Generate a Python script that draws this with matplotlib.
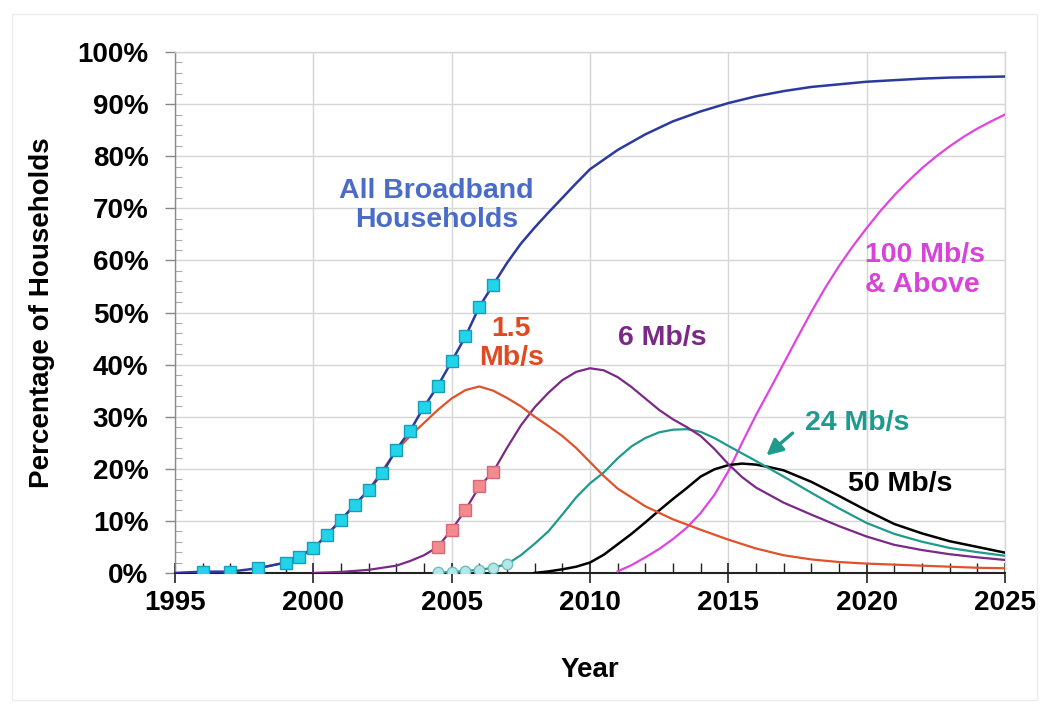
import numpy as np
import matplotlib.pyplot as plt
from matplotlib.patches import Rectangle
from matplotlib.ticker import MultipleLocator, FuncFormatter

plt.rcParams['font.family'] = ['Liberation Sans', 'DejaVu Sans']
plt.rcParams['font.weight'] = 'bold'

# ---------------- data ----------------
# All broadband households
bb_years = [1995, 1996, 1997, 1998, 1999, 1999.5, 2000, 2000.5, 2001, 2001.5, 2002,
            2002.5, 2003, 2003.5, 2004, 2004.5, 2005, 2005.5, 2006, 2006.5,
            2007, 2007.5, 2008, 2008.5, 2009, 2009.5, 2010, 2011, 2012, 2013,
            2014, 2015, 2016, 2017, 2018, 2019, 2020, 2021, 2022, 2023, 2024, 2025]
bb_vals = [0, 0.25, 0.25, 0.9, 2.0, 3.1, 4.7, 7.3, 10.2, 13.1, 15.9,
           19.2, 23.7, 27.3, 31.9, 35.9, 40.6, 45.4, 51.1, 55.3,
           59.5, 63.2, 66.3, 69.2, 72.0, 74.8, 77.5, 81.2, 84.2, 86.7,
           88.6, 90.2, 91.5, 92.5, 93.3, 93.8, 94.3, 94.6, 94.9, 95.1, 95.2, 95.3]

# 1.5 Mb/s
r15_years = [1998, 1999, 2000, 2001, 2002, 2003, 2003.5, 2004, 2004.5, 2005, 2005.5,
             2006, 2006.5, 2007, 2007.5, 2008, 2008.5, 2009, 2009.5, 2010, 2010.5,
             2011, 2012, 2013, 2014, 2015, 2016, 2017, 2018, 2019, 2020, 2021,
             2022, 2023, 2024, 2025]
r15_vals = [0.9, 2.0, 4.7, 10.2, 15.9, 23.5, 26.3, 28.8, 31.3, 33.5, 35.1,
            35.8, 35.0, 33.6, 32.0, 30.0, 28.2, 26.3, 24.0, 21.3, 18.6,
            16.2, 12.8, 10.3, 8.3, 6.4, 4.7, 3.4, 2.6, 2.1, 1.8, 1.6,
            1.4, 1.2, 1.0, 0.9]

# 6 Mb/s
r6_years = [2000, 2001, 2002, 2003, 2003.5, 2004, 2004.5, 2005, 2005.5, 2006, 2006.5,
            2007, 2007.5, 2008, 2008.5, 2009, 2009.5, 2010, 2010.5, 2011, 2011.5,
            2012, 2012.5, 2013, 2013.5, 2014, 2014.5, 2015, 2015.5, 2016, 2017,
            2018, 2019, 2020, 2021, 2022, 2023, 2024, 2025]
r6_vals = [0, 0.2, 0.6, 1.4, 2.3, 3.4, 5.0, 8.3, 12.1, 16.6, 19.4,
           24.0, 28.3, 31.8, 34.6, 37.0, 38.6, 39.3, 38.9, 37.6, 35.7,
           33.5, 31.3, 29.5, 28.0, 26.3, 23.8, 20.9, 18.4, 16.4, 13.5,
           11.2, 9.0, 7.0, 5.4, 4.4, 3.6, 3.0, 2.5]

# 24 Mb/s
r24_years = [2004.5, 2005, 2005.5, 2006, 2006.5, 2007, 2007.5, 2008, 2008.5, 2009,
             2009.5, 2010, 2010.5, 2011, 2011.5, 2012, 2012.5, 2013, 2013.5, 2014,
             2014.5, 2015, 2016, 2017, 2018, 2019, 2020, 2021, 2022, 2023, 2024, 2025]
r24_vals = [0.1, 0.2, 0.4, 0.6, 1.0, 1.7, 3.4, 5.6, 8.0, 11.2,
            14.5, 17.2, 19.3, 22.0, 24.3, 25.9, 27.0, 27.5, 27.6, 27.1,
            25.9, 24.4, 21.5, 18.5, 15.4, 12.4, 9.6, 7.5, 6.0, 4.8, 4.0, 3.3]

# 50 Mb/s
r50_years = [2008, 2008.5, 2009, 2009.5, 2010, 2010.5, 2011, 2011.5, 2012, 2012.5,
             2013, 2013.5, 2014, 2014.5, 2015, 2015.5, 2016, 2016.5, 2017, 2018,
             2019, 2020, 2021, 2022, 2023, 2024, 2025]
r50_vals = [0, 0.3, 0.7, 1.2, 2.0, 3.5, 5.5, 7.5, 9.7, 12.0,
            14.2, 16.3, 18.5, 19.9, 20.7, 21.0, 20.8, 20.3, 19.7, 17.5,
            14.8, 12.0, 9.4, 7.6, 6.1, 5.0, 3.9]

# 100 Mb/s & above
r100_years = [2011, 2011.5, 2012, 2012.5, 2013, 2013.5, 2014, 2014.5, 2015, 2015.5,
              2016, 2016.5, 2017, 2017.5, 2018, 2018.5, 2019, 2019.5, 2020, 2020.5,
              2021, 2021.5, 2022, 2022.5, 2023, 2023.5, 2024, 2024.5, 2025]
r100_vals = [0.3, 1.5, 3.0, 4.6, 6.5, 8.7, 11.5, 15.0, 19.5, 25.0,
             30.3, 35.2, 40.2, 45.2, 50.1, 54.7, 58.9, 62.7, 66.2, 69.5,
             72.5, 75.2, 77.7, 79.9, 81.9, 83.7, 85.3, 86.7, 88.0]

# ---------------- figure ----------------
fig = plt.figure(figsize=(10.49, 7.13), dpi=100)
fig.patches.append(Rectangle((0.011, 0.018), 0.978, 0.962, transform=fig.transFigure,
                             fill=False, edgecolor='#ececec', linewidth=1.0))
ax = fig.add_axes([0.1668, 0.1964, 0.7912, 0.7306])

# markers only on the early historical part
def mark_idx(years, lo, hi):
    return [i for i, y in enumerate(years) if lo <= y <= hi]

ax.plot(r100_years, r100_vals, color='#e044e0', lw=1.6, zorder=3)
ax.plot(r50_years, r50_vals, color='black', lw=1.8, zorder=3)
ax.plot(r24_years, r24_vals, color='#1f9a8e', lw=1.6, zorder=3,
        marker='o', markevery=mark_idx(r24_years, 2004.5, 2007), ms=7.5,
        mfc='#b4e8e8', mec='#72bcbc', mew=1)
ax.plot(r6_years, r6_vals, color='#7a2a86', lw=1.6, zorder=4,
        marker='s', markevery=mark_idx(r6_years, 2004.5, 2006.5), ms=8,
        mfc='#f28a8e', mec='#d86878', mew=1)
ax.plot(r15_years, r15_vals, color='#e0522c', lw=1.6, zorder=4)
ax.plot(bb_years, bb_vals, color='#2b3a9e', lw=1.8, zorder=5,
        marker='s', markevery=mark_idx(bb_years, 1996, 2006.5), ms=9,
        mfc='#22d4ea', mec='#1a9cb8', mew=1)

ax.set_xlim(1995, 2025)
ax.set_ylim(0, 100)
ax.xaxis.set_major_locator(MultipleLocator(5))
ax.xaxis.set_minor_locator(MultipleLocator(1))
ax.yaxis.set_major_locator(MultipleLocator(10))
ax.yaxis.set_minor_locator(MultipleLocator(2))
ax.yaxis.set_major_formatter(FuncFormatter(lambda v, p: f'{v:.0f}%'))
ax.grid(True, which='major', color='#d6d6d6', lw=1.0, zorder=0)
ax.set_axisbelow(True)

for s in ['top', 'right']:
    ax.spines[s].set_color('#d6d6d6')
    ax.spines[s].set_linewidth(1.0)
ax.spines['bottom'].set_color('#222222')
ax.spines['bottom'].set_linewidth(1.5)
ax.spines['left'].set_color('#888888')
ax.spines['left'].set_linewidth(1.0)

ax.tick_params(axis='y', which='major', direction='out', length=7, width=1,
               color='#888888', labelsize=20, pad=12)
ax.tick_params(axis='y', which='minor', direction='in', length=5, width=0.8,
               color='#aaaaaa')
ax.tick_params(axis='x', which='major', direction='inout', length=14, width=1.2,
               color='#222222', labelsize=20, pad=5)
ax.tick_params(axis='x', which='minor', direction='in', length=7, width=1,
               color='#222222')
for lbl in ax.get_xticklabels() + ax.get_yticklabels():
    lbl.set_fontweight('bold')

ax.set_xlabel('Year', fontsize=20, fontweight='bold', labelpad=30)
ax.set_ylabel('Percentage of Households', fontsize=20, fontweight='bold', labelpad=16)

# ---------------- labels on the curves ----------------
fs = 20.5
ax.text(2004.45, 70.5, 'All Broadband\nHouseholds', color='#4a6cc8', fontsize=fs,
        fontweight='bold', ha='center', va='center', linespacing=1.15)
ax.text(2007.15, 44, '1.5\nMb/s', color='#e04a22', fontsize=fs,
        fontweight='bold', ha='center', va='center', linespacing=1.15)
ax.text(2012.6, 45.2, '6 Mb/s', color='#7a2a86', fontsize=fs,
        fontweight='bold', ha='center', va='center')
ax.text(2019.65, 28.7, '24 Mb/s', color='#1f9a8e', fontsize=fs,
        fontweight='bold', ha='center', va='center')
ax.annotate('', xy=(2016.3, 22.2), xytext=(2017.4, 27.2),
            arrowprops=dict(arrowstyle='-|>', color='#1f9a8e', lw=2.4,
                            mutation_scale=24))
ax.text(2021.2, 17.1, '50 Mb/s', color='black', fontsize=fs,
        fontweight='bold', ha='center', va='center')
ax.text(2019.95, 58.2, '100 Mb/s\n& Above', color='#d844d8', fontsize=fs,
        fontweight='bold', ha='left', va='center', linespacing=1.2)

fig.savefig('out.png', dpi=100)
